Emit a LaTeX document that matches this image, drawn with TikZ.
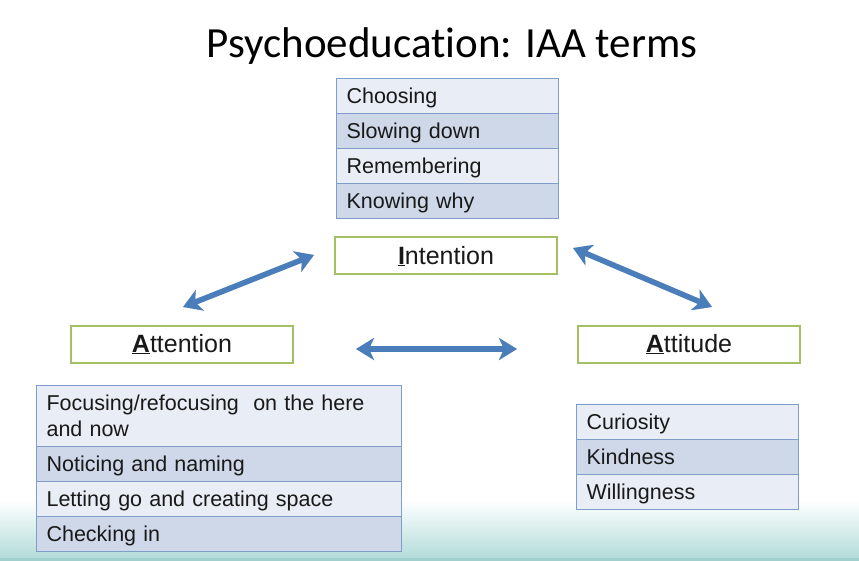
\documentclass[tikz,border=0pt]{standalone}
\usepackage{fontspec}
\setmainfont{Liberation Sans}
\newfontfamily\titlefont[Ligatures=NoCommon]{Carlito}
\usetikzlibrary{arrows.meta}
\definecolor{rowlight}{HTML}{E9EDF5}
\definecolor{rowdark}{HTML}{CFD8E8}
\definecolor{rowline}{HTML}{7F9DC8}
\definecolor{labgreen}{HTML}{A3C064}
\definecolor{arrowblue}{HTML}{4A7EBB}
\definecolor{teal1}{HTML}{B3DCDA}
\definecolor{teal2}{HTML}{A0CFCE}
\begin{document}
\begin{tikzpicture}[x=1pt,y=-1pt,
  rowbase/.style={draw=rowline, line width=1.1pt, anchor=north west, align=left,
    inner xsep=10pt, inner ysep=0pt, text=black!90, text height=17.5pt, text depth=2.5pt,
    font=\fontsize{21.5}{26}\selectfont},
  rowL/.style={rowbase, fill=rowlight},
  rowD/.style={rowbase, fill=rowdark},
  labelbox/.style={draw=labgreen, line width=2pt, fill=white, minimum width=222pt,
    minimum height=37pt, inner sep=0pt, text=black!90, font=\fontsize{25}{28}\selectfont},
  link/.style={draw=arrowblue, line width=5.5pt,
    {Stealth[length=18pt,width=22pt,inset=5pt]}-{Stealth[length=18pt,width=22pt,inset=5pt]}},
  linkshadow/.style={draw=black!15, line width=5.5pt,
    {Stealth[length=18pt,width=22pt,inset=5pt]}-{Stealth[length=18pt,width=22pt,inset=5pt]}}
]
\useasboundingbox (0,0) rectangle (859,561);
\fill[white] (0,0) rectangle (859,561);
\shade[top color=white, bottom color=teal1] (0,500) rectangle (859,558);
\fill[teal2] (0,558) rectangle (859,561);

% title
\node[anchor=base, font=\titlefont\fontsize{43}{48}\selectfont] (title) at (452,58) {Psychoeducation: IAA terms};

% Intention table
\node[rowL, text width=202pt, minimum height=35pt] (i1) at (336,78) {Choosing};
\node[rowD, text width=202pt, minimum height=35pt] (i2) at (336,113) {Slowing down};
\node[rowL, text width=202pt, minimum height=35pt] (i3) at (336,148) {Remembering};
\node[rowD, text width=202pt, minimum height=35pt] (i4) at (336,183) {Knowing why};

% labels
\node[labelbox] (intention) at (446,256) {\underline{\textbf{I}}ntention};
\node[labelbox] (attention) at (182,344) {\underline{\textbf{A}}ttention};
\node[labelbox] (attitude) at (689,344) {\underline{\textbf{A}}ttitude};

% Attention table
\node[rowL, text width=345pt, minimum height=61pt, text depth=28.5pt] (a1) at (36,385) {Focusing/refocusing\ \ on the here\\and now};
\node[rowD, text width=345pt, minimum height=35pt] (a2) at (36,446) {Noticing and naming};
\node[rowL, text width=345pt, minimum height=35pt] (a3) at (36,481) {Letting go and creating space};
\node[rowD, text width=345pt, minimum height=35pt] (a4) at (36,516) {Checking in};

% Attitude table
\node[rowL, text width=202pt, minimum height=35pt] (t1) at (576,404) {Curiosity};
\node[rowD, text width=202pt, minimum height=35pt] (t2) at (576,439) {Kindness};
\node[rowL, text width=202pt, minimum height=35pt] (t3) at (576,474) {Willingness};

% arrow end points
\coordinate (ia1) at (183,307);
\coordinate (ia2) at (314,255);
\coordinate (it1) at (573,248);
\coordinate (it2) at (712,307);
\coordinate (at1) at (356,349);
\coordinate (at2) at (517,349);

\begin{scope}[shift={(1.5,1.5)}]
\draw[linkshadow] (ia1) -- (ia2);
\draw[linkshadow] (it1) -- (it2);
\draw[linkshadow] (at1) -- (at2);
\end{scope}
\draw[link] (ia1) -- (ia2);
\draw[link] (it1) -- (it2);
\draw[link] (at1) -- (at2);
\end{tikzpicture}
\end{document}
